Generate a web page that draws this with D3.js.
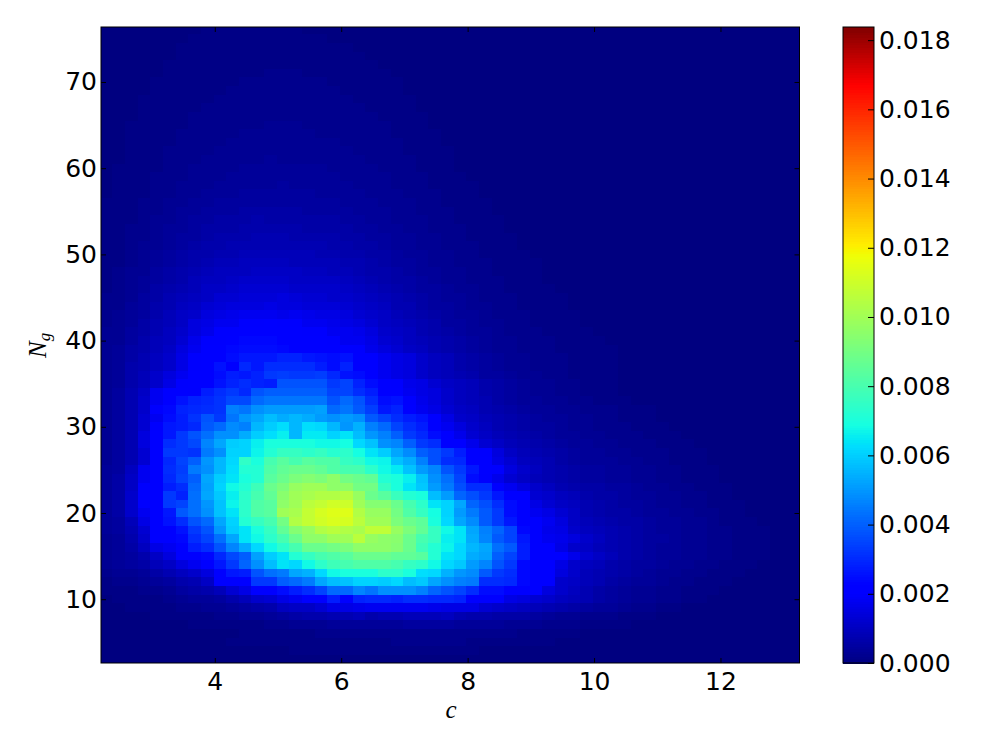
<!DOCTYPE html>
<html><head><meta charset="utf-8">
<style>html,body{margin:0;padding:0;background:#fff}svg{display:block}</style>
<script src="https://cdn.jsdelivr.net/npm/d3@7"></script>
</head><body><div id="chart"></div>
<script>
// Density, unit 0.0001. First row is N = 3, last row N = 76.
// Columns run from c = 2.18 in steps of 0.2; columns not listed on a row read as zero.
const density = [
[0],
[0,0,0,0,0,0,0,0,0,0,0,0,0,0,0,1,1,1,1,1,1,1,1,1,1,1,1,1,1,1],
[0,0,0,0,0,0,0,0,0,0,1,1,1,1,1,1,1,1,1,1,1,1,1,2,2,2,2,2,2,1,1,1,1,1,1,1],
[0,0,0,0,0,0,0,0,0,0,0,1,1,1,1,1,1,2,2,2,2,2,2,2,2,2,2,2,2,2,2,2,2,1,1,1,1,1],
[0,0,0,0,0,0,0,1,1,1,1,1,1,2,2,3,3,3,4,4,4,4,4,4,5,5,5,5,4,4,4,4,3,3,3,2,2,2,1,1,1,1],
[0,0,0,0,1,1,1,1,1,2,2,3,3,4,5,6,7,7,8,8,9,7,8,8,9,9,9,10,8,7,7,6,6,6,5,4,3,3,2,2,2,1,1,1],
[0,0,1,1,1,1,2,2,3,3,4,5,6,7,10,11,11,13,16,16,17,18,18,18,18,18,17,16,16,16,13,12,11,10,9,8,7,6,5,4,4,3,2,2,1,1],
[0,1,1,1,1,2,3,4,4,5,7,9,12,13,16,18,21,23,28,23,29,30,30,29,31,31,30,30,29,23,21,21,16,15,13,12,10,9,8,6,5,4,3,3,2,2,1,1],
[1,1,1,2,2,3,5,6,7,9,13,16,23,23,25,28,31,35,42,42,47,44,49,49,49,46,41,38,35,31,25,25,22,21,21,15,12,10,8,6,5,4,3,3,2,2,1,1,1],
[1,2,2,3,4,5,7,8,11,21,23,23,33,33,40,42,45,53,57,58,61,61,60,62,57,59,53,49,46,45,31,31,30,24,23,21,12,11,9,8,6,5,4,4,3,2,2,1,1,1],
[2,3,3,4,6,8,10,12,15,23,27,28,38,43,45,53,55,62,68,70,70,70,74,74,70,63,62,55,50,48,39,33,31,24,23,21,15,12,9,8,7,6,5,4,3,3,2,2,1,1,1],
[3,4,5,6,9,11,15,18,23,27,33,41,49,57,64,62,68,74,78,80,82,82,82,80,76,74,68,62,59,51,47,38,33,24,23,21,16,12,10,9,7,6,5,5,4,3,3,2,2,1,1,1],
[3,4,5,7,11,15,21,23,24,30,36,40,52,60,64,72,76,80,82,84,88,88,88,86,86,84,72,64,62,54,52,40,35,28,23,23,21,17,13,11,9,7,6,5,4,4,3,3,2,2,1,1,1],
[3,4,6,10,16,18,23,28,31,38,47,54,62,68,74,80,88,88,90,92,96,96,96,94,88,78,72,67,62,56,53,43,39,28,23,21,16,12,11,9,8,7,6,5,4,4,3,3,2,2,1,1,1],
[3,4,7,12,21,23,24,31,35,43,53,64,68,74,80,88,96,96,100,100,106,98,96,95,88,80,76,66,64,54,47,39,35,27,23,18,17,15,12,10,8,7,6,5,5,4,3,3,2,2,1,1,1],
[4,5,8,13,23,23,26,33,38,50,60,64,70,76,86,94,98,104,106,104,102,107,107,98,92,86,76,68,64,53,46,41,35,24,23,17,16,12,10,9,8,7,6,5,4,4,3,3,2,2,1,1,1],
[4,5,9,16,23,26,31,38,42,53,61,72,76,80,90,104,108,111,113,112,106,100,100,92,88,85,70,62,53,48,39,33,27,23,21,18,15,11,9,8,7,6,6,5,4,4,3,3,2,1,1,1],
[4,6,12,18,23,27,39,43,49,58,64,74,82,84,100,102,108,112,114,114,104,98,98,90,82,76,69,61,51,45,39,33,25,23,18,16,13,11,8,7,6,6,5,4,4,3,3,2,2,1,1],
[4,6,12,20,23,33,35,43,50,58,67,74,82,84,96,100,106,108,111,110,100,94,94,88,80,74,64,61,53,41,37,31,25,21,16,13,11,10,8,7,6,5,5,4,3,3,2,2,1,1,1],
[4,6,12,20,23,33,29,43,53,59,66,74,80,86,95,100,102,104,104,105,98,88,84,77,72,70,57,51,41,37,33,27,23,21,13,12,10,9,7,6,6,5,4,4,3,3,2,2,1,1],
[4,6,11,20,21,28,31,42,52,61,68,72,78,88,92,98,100,100,96,96,90,90,76,70,64,59,51,45,37,31,31,23,18,15,12,10,8,7,6,6,5,5,4,3,3,2,2,1,1,1],
[4,6,11,18,23,30,35,40,53,60,64,70,72,84,88,92,94,92,96,90,88,86,72,70,66,58,49,43,35,25,20,17,13,11,9,8,7,6,5,5,4,4,3,3,2,2,1,1,1],
[4,5,10,18,23,31,34,45,49,56,63,72,72,82,86,88,88,86,82,80,80,74,68,65,58,51,47,38,33,27,23,20,15,12,10,8,7,6,5,5,4,4,3,3,2,2,1,1,1],
[3,5,8,13,23,30,35,40,50,56,62,75,70,80,84,80,84,82,82,76,74,68,67,58,54,46,37,31,30,23,23,16,13,10,9,8,6,5,4,4,4,3,3,2,2,1,1,1],
[3,5,8,13,23,33,33,32,45,49,61,61,67,72,76,76,74,76,73,74,69,64,60,53,48,40,37,33,28,23,20,15,11,9,8,7,6,5,4,4,3,3,2,2,2,1,1,1],
[3,5,8,15,23,31,33,36,47,53,60,61,66,70,70,70,70,68,68,69,62,58,49,47,40,33,31,23,23,17,13,11,9,8,7,6,5,4,4,3,3,2,2,2,1,1,1],
[3,5,8,15,23,27,33,38,43,49,49,54,60,63,66,56,65,65,61,64,57,50,46,40,33,30,25,21,17,13,11,9,8,7,6,5,4,4,3,3,2,2,2,1,1,1],
[3,5,8,13,20,27,28,30,39,42,48,46,56,60,63,56,63,62,56,50,55,46,42,35,31,28,23,18,15,12,10,8,7,6,5,5,4,3,3,2,2,2,1,1,1],
[3,5,8,13,18,25,28,32,38,33,44,50,53,57,54,56,54,51,49,51,49,39,35,31,28,26,21,16,12,11,9,8,7,6,5,4,4,3,3,2,2,1,1,1],
[3,5,8,12,20,24,29,30,31,32,46,44,49,51,51,51,51,52,42,44,39,34,27,29,23,18,16,13,11,10,8,7,6,5,4,4,3,3,2,2,2,1,1,1],
[3,5,8,12,18,23,26,29,30,32,36,36,42,44,44,44,44,44,38,42,38,31,25,26,20,17,15,12,10,9,8,6,5,4,4,3,3,2,2,1,1,1],
[3,5,8,11,18,21,23,20,28,31,33,30,38,40,40,40,40,40,35,35,31,28,23,23,18,16,15,12,10,9,7,6,5,4,3,3,2,2,1,1,1],
[3,4,7,9,12,16,20,23,23,26,29,31,29,28,38,38,38,38,33,35,29,25,23,20,17,16,13,11,10,9,7,6,5,4,3,3,2,2,1,1,1],
[3,4,7,9,12,15,18,21,23,25,28,27,29,33,34,33,33,34,30,26,25,21,18,16,15,12,10,9,8,7,5,5,4,3,3,2,2,1,1,1,1],
[3,4,7,8,10,12,16,20,23,26,23,30,27,31,31,31,31,28,25,29,23,21,18,16,15,12,10,9,7,6,5,4,3,3,2,2,2,1,1,1,1],
[3,4,6,8,10,12,16,20,23,23,25,27,27,27,29,29,27,26,25,26,23,21,18,16,15,12,10,9,7,6,5,4,3,3,2,2,2,1,1,1,1],
[3,4,6,7,9,11,15,18,21,23,24,25,25,25,24,23,23,23,21,21,20,17,15,13,11,10,8,7,6,5,4,3,3,2,2,2,1,1,1,1,1],
[3,3,5,7,9,10,13,17,20,20,23,24,24,24,23,23,23,21,20,18,18,16,13,12,10,9,8,7,6,5,4,3,3,2,2,2,1,1,1,1],
[3,3,5,6,8,10,12,15,17,20,20,21,23,21,21,21,20,20,18,18,17,15,12,11,10,8,7,6,5,4,4,3,2,2,2,1,1,1,1],
[2,3,4,6,8,9,11,15,16,18,18,20,20,21,20,20,18,18,17,16,15,13,11,10,9,8,7,5,5,4,3,3,2,2,1,1,1,1],
[2,3,4,5,7,9,11,12,15,16,17,18,18,18,17,18,17,16,16,15,13,12,11,9,8,7,6,5,4,4,3,2,2,2,1,1,1,1],
[2,2,4,5,7,8,10,11,13,14,15,15,15,16,15,15,14,14,14,13,12,11,10,8,8,6,5,5,4,3,3,2,2,1,1,1,1],
[2,2,3,5,6,8,9,10,11,13,13,14,14,14,15,14,13,13,12,12,11,10,9,8,7,6,5,4,4,3,2,2,2,1,1,1,1],
[1,2,3,4,6,7,8,9,11,11,12,13,13,13,13,12,12,12,12,11,10,9,8,7,6,5,5,4,3,3,2,2,1,1,1,1],
[1,2,3,4,5,6,7,9,10,10,11,12,12,12,12,11,11,11,11,10,9,8,7,6,6,5,4,3,3,2,2,2,1,1,1],
[1,2,3,3,5,6,7,8,9,10,10,10,11,11,11,11,10,10,9,9,8,7,7,6,5,4,4,3,3,2,2,1,1,1,1],
[1,1,2,3,4,5,6,7,8,9,9,10,10,10,10,9,9,9,9,8,8,7,6,5,5,4,3,3,2,2,2,1,1,1,1],
[1,1,2,3,4,5,6,7,7,8,8,9,9,9,9,9,9,8,8,7,7,6,6,5,4,4,3,3,2,2,1,1,1,1],
[1,1,2,3,3,4,5,6,7,7,8,8,8,8,8,8,8,8,7,7,6,6,5,4,4,3,3,2,2,2,1,1,1],
[1,1,2,2,3,4,5,5,6,7,7,7,8,8,8,7,7,7,7,6,6,5,5,4,4,3,3,2,2,1,1,1,1],
[1,1,2,2,3,4,4,5,6,6,6,7,7,7,7,7,6,6,6,6,5,5,4,4,3,3,2,2,2,1,1,1],
[1,1,1,2,3,3,4,5,5,6,6,6,7,6,6,6,6,6,6,5,5,4,4,3,3,3,2,2,1,1,1,1],
[1,1,1,2,2,3,4,4,5,5,5,6,6,6,6,6,5,5,5,5,4,4,4,3,3,2,2,2,1,1,1],
[1,1,1,2,2,3,3,4,4,5,5,5,5,5,5,5,5,5,5,4,4,4,3,3,3,2,2,1,1,1,1],
[0,1,1,1,2,2,3,3,4,4,4,5,5,5,5,5,5,4,4,4,4,3,3,3,2,2,2,1,1,1],
[0,1,1,1,2,2,3,3,3,4,4,4,4,4,5,4,4,4,4,4,3,3,3,2,2,2,1,1,1,1],
[0,1,1,1,2,2,2,3,3,3,4,4,4,4,4,4,4,4,4,3,3,3,3,2,2,2,1,1,1],
[0,1,1,1,1,2,2,3,3,3,3,4,4,4,4,4,4,4,3,3,3,3,2,2,2,1,1,1],
[0,0,1,1,1,2,2,2,3,3,3,3,3,4,3,3,3,3,3,3,3,2,2,2,2,1,1,1],
[0,0,1,1,1,2,2,2,2,3,3,3,3,3,3,3,3,3,3,3,2,2,2,2,1,1,1,1],
[0,0,1,1,1,1,2,2,2,2,3,3,3,3,3,3,3,3,3,2,2,2,2,2,1,1,1],
[0,0,1,1,1,1,2,2,2,2,2,3,3,3,3,3,3,2,2,2,2,2,2,1,1,1,1],
[0,0,1,1,1,1,1,2,2,2,2,2,2,3,3,3,2,2,2,2,2,2,2,1,1,1],
[0,0,0,1,1,1,1,2,2,2,2,2,2,2,2,2,2,2,2,2,2,2,1,1,1,1],
[0,0,0,1,1,1,1,1,2,2,2,2,2,2,2,2,2,2,2,2,2,1,1,1,1],
[0,0,0,1,1,1,1,1,1,2,2,2,2,2,2,2,2,2,2,2,1,1,1,1,1],
[0,0,0,0,1,1,1,1,1,1,2,2,2,2,2,2,2,2,2,1,1,1,1,1],
[0,0,0,0,1,1,1,1,1,1,1,2,2,2,2,2,2,2,1,1,1,1,1,1],
[0,0,0,0,0,1,1,1,1,1,1,1,1,2,2,2,1,1,1,1,1,1,1],
[0,0,0,0,0,1,1,1,1,1,1,1,1,1,1,1,1,1,1,1,1,1],
[0,0,0,0,0,0,1,1,1,1,1,1,1,1,1,1,1,1,1,1,1],
[0,0,0,0,0,0,1,1,1,1,1,1,1,1,1,1,1,1,1,1],
[0,0,0,0,0,0,0,1,1,1,1,1,1,1,1,1,1,1],
[0,0,0,0,0,0,0,0,1,1,1,1,1,1,1,1]
];
const densityUnit = 0.0001;
const columnCount = 56;
const firstColumnEdge = 2.18, columnStep = 0.2;
const firstRowEdge = 2.6, rowStep = 1;
const xTicks = [4, 6, 8, 10, 12];
const yTicks = [10, 20, 30, 40, 50, 60, 70];
const colorTicks = [0, 0.002, 0.004, 0.006, 0.008, 0.01, 0.012, 0.014, 0.016, 0.018];
const colorMax = 0.01838;
const xLabel = "c";
const yLabelMain = "N", yLabelSub = "g";

// matplotlib "jet" breakpoints
const jetStops = [0, .11, .125, .34, .35, .375, .64, .65, .66, .89, .91, 1];
const jetColors = ["rgb(0,0,128)","rgb(0,0,255)","rgb(0,0,255)","rgb(0,219,255)","rgb(0,230,247)","rgb(21,255,226)","rgb(238,255,8)","rgb(247,246,0)","rgb(255,236,0)","rgb(255,19,0)","rgb(255,0,0)","rgb(128,0,0)"];
const color = d3.scaleLinear().domain(jetStops.map(t => t * colorMax)).range(jetColors).clamp(true);

const plot = {left: 101, right: 799.5, top: 27, bottom: 663};
const bar = {left: 843, right: 874};
const x = d3.scaleLinear().domain([2.2, 13.25]).range([plot.left, plot.right]);
const y = d3.scaleLinear().domain([2.6, 76.38]).range([plot.bottom, plot.top]);
const cy = d3.scaleLinear().domain([0, colorMax]).range([plot.bottom, plot.top]);

const svg = d3.select("#chart").append("svg").attr("width", 1000).attr("height", 750);
svg.append("clipPath").attr("id", "plotClip").append("rect")
  .attr("x", plot.left).attr("y", plot.top)
  .attr("width", plot.right - plot.left).attr("height", plot.bottom - plot.top);

const cells = [];
density.forEach((row, j) => {
  for (let i = 0; i < columnCount; i++) cells.push({i, j, v: (row[i] || 0) * densityUnit});
});
svg.append("g").attr("clip-path", "url(#plotClip)").attr("shape-rendering", "crispEdges")
  .selectAll("rect").data(cells).join("rect")
  .attr("x", d => x(firstColumnEdge + d.i * columnStep))
  .attr("width", d => x(firstColumnEdge + (d.i + 1) * columnStep) - x(firstColumnEdge + d.i * columnStep) + 0.6)
  .attr("y", d => y(firstRowEdge + (d.j + 1) * rowStep))
  .attr("height", d => y(firstRowEdge + d.j * rowStep) - y(firstRowEdge + (d.j + 1) * rowStep) + 0.6)
  .attr("fill", d => color(d.v));

// colour bar
const levels = d3.range(0, 256).map(k => k / 256 * colorMax);
svg.append("g").attr("shape-rendering", "crispEdges")
  .selectAll("rect").data(levels).join("rect")
  .attr("x", bar.left).attr("width", bar.right - bar.left)
  .attr("y", d => cy(d + colorMax / 256))
  .attr("height", d => cy(d) - cy(d + colorMax / 256) + 1)
  .attr("fill", d => color(d + colorMax / 512));

const font = "'DejaVu Sans', sans-serif";
function style(g, size) {
  g.select(".domain").remove();
  g.selectAll(".tick line").attr("stroke", "#000").attr("stroke-width", 1);
  g.selectAll(".tick text").attr("font-family", font).attr("font-size", size).attr("fill", "#000");
}
const tickSize = 25;
const gb = svg.append("g").attr("transform", `translate(0,${plot.bottom})`)
  .call(d3.axisBottom(x).tickValues(xTicks).tickFormat(d3.format("d")).tickSizeInner(-5).tickPadding(9));
style(gb, tickSize); gb.selectAll(".tick text").attr("dy", "0.71em");
const gt = svg.append("g").attr("transform", `translate(0,${plot.top})`)
  .call(d3.axisTop(x).tickValues(xTicks).tickFormat("").tickSizeInner(-5));
style(gt, tickSize);
const gl = svg.append("g").attr("transform", `translate(${plot.left},0)`)
  .call(d3.axisLeft(y).tickValues(yTicks).tickFormat(d3.format("d")).tickSizeInner(-5).tickPadding(4));
style(gl, tickSize);
const gr = svg.append("g").attr("transform", `translate(${plot.right},0)`)
  .call(d3.axisRight(y).tickValues(yTicks).tickFormat("").tickSizeInner(-5));
style(gr, tickSize);
const gc = svg.append("g").attr("transform", `translate(${bar.right},0)`)
  .call(d3.axisRight(cy).tickValues(colorTicks).tickFormat(d3.format(".3f")).tickSizeInner(-6).tickPadding(5));
style(gc, tickSize);

svg.append("rect").attr("x", plot.left).attr("y", plot.top)
  .attr("width", plot.right - plot.left).attr("height", plot.bottom - plot.top)
  .attr("fill", "none").attr("stroke", "#000").attr("stroke-width", 1);
svg.append("rect").attr("x", bar.left).attr("y", plot.top)
  .attr("width", bar.right - bar.left).attr("height", plot.bottom - plot.top)
  .attr("fill", "none").attr("stroke", "#000").attr("stroke-width", 1);

const serif = "'Liberation Serif', serif";
svg.append("text").attr("x", 451).attr("y", 718).attr("text-anchor", "middle")
  .attr("font-family", serif).attr("font-style", "italic").attr("font-size", 25).text(xLabel);
const yl = svg.append("text").attr("transform", "translate(46,358) rotate(-90)")
  .attr("font-family", serif).attr("font-style", "italic").attr("font-size", 25);
yl.append("tspan").text(yLabelMain);
yl.append("tspan").attr("font-size", 17).attr("dy", 4).text(yLabelSub);
</script></body></html>
